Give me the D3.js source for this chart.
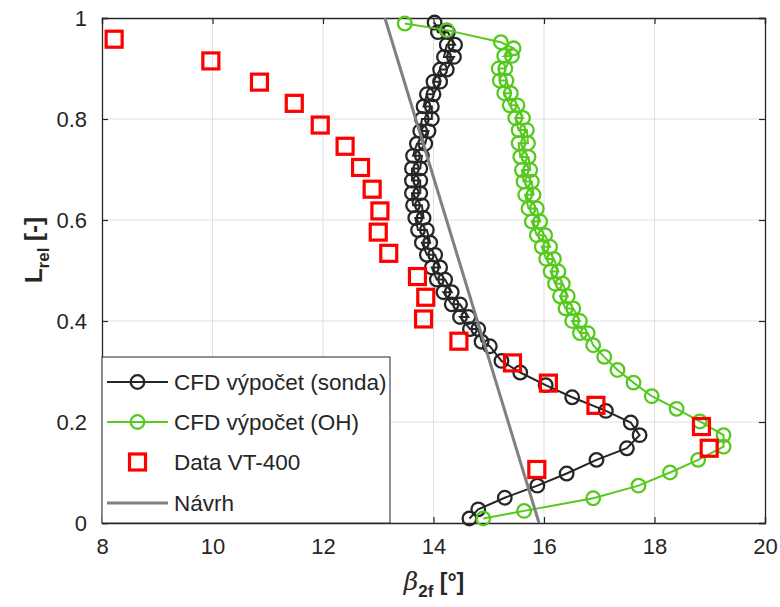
<!DOCTYPE html>
<html>
<head>
<meta charset="utf-8">
<script src="https://cdn.jsdelivr.net/npm/d3@7/dist/d3.min.js"></script>
<style>
  html, body { margin: 0; padding: 0; background: #fff; }
  svg text { font-family: "Liberation Sans", Arial, Helvetica, sans-serif; fill: #262626; }
</style>
</head>
<body>
<svg id="chart" width="780" height="607"></svg>
<script>
// Axis ticks
const xTicks = [8, 10, 12, 14, 16, 18, 20];
const yTicks = [0, 0.2, 0.4, 0.6, 0.8, 1];

// CFD výpočet (sonda): beta_2f [deg] vs L_rel [-]
const sondaBeta = [14.65, 14.81, 15.29, 15.88, 16.41, 16.95, 17.50, 17.73, 17.57, 17.12,
  16.51, 16.03, 15.57, 15.23, 15.02, 14.87,
  14.81, 14.66, 14.48, 14.63, 14.48, 14.33, 14.18, 14.33, 14.21, 14.06,
  13.97, 14.12, 14.03, 13.88, 13.79, 13.94, 13.88, 13.72, 13.67, 13.82,
  13.79, 13.63, 13.61, 13.76, 13.76, 13.61, 13.61, 13.76, 13.79, 13.63,
  13.70, 13.85, 13.91, 13.76, 13.79, 13.97, 13.97, 13.82, 13.88, 14.00,
  14.12, 14.00, 14.12, 14.24, 14.37, 14.19, 14.24, 14.39, 14.26, 14.08, 14.02];
const sondaL = [0.009, 0.027, 0.050, 0.074, 0.098, 0.125, 0.148, 0.174, 0.199, 0.222,
  0.249, 0.273, 0.298, 0.321, 0.350, 0.359,
  0.384, 0.384, 0.408, 0.408, 0.433, 0.433, 0.457, 0.457, 0.482, 0.482,
  0.506, 0.506, 0.531, 0.531, 0.555, 0.555, 0.580, 0.580, 0.604, 0.604,
  0.629, 0.629, 0.653, 0.653, 0.678, 0.678, 0.702, 0.702, 0.727, 0.727,
  0.751, 0.751, 0.776, 0.776, 0.800, 0.800, 0.825, 0.825, 0.849, 0.849,
  0.874, 0.874, 0.898, 0.898, 0.923, 0.923, 0.947, 0.947, 0.972, 0.972, 0.991];

// CFD výpočet (OH)
const ohBeta = [14.90, 15.64, 16.89, 17.71, 18.28, 18.79, 19.25, 19.25, 18.82, 18.40,
  17.95, 17.62, 17.33, 17.09, 16.89,
  16.79, 16.65, 16.51, 16.65, 16.53, 16.39, 16.29, 16.43, 16.34, 16.20,
  16.12, 16.26, 16.18, 16.04, 15.96, 16.11, 16.02, 15.87, 15.78, 15.93,
  15.87, 15.72, 15.66, 15.81, 15.78, 15.63, 15.60, 15.75, 15.72, 15.57,
  15.54, 15.71, 15.69, 15.54, 15.48, 15.62, 15.52, 15.38, 15.28, 15.40,
  15.32, 15.20, 15.18, 15.30, 15.42, 15.28, 15.45, 15.22, 14.24, 13.48];
const ohL = [0.009, 0.024, 0.049, 0.074, 0.100, 0.125, 0.151, 0.174, 0.201, 0.226,
  0.251, 0.278, 0.303, 0.329, 0.352,
  0.376, 0.376, 0.400, 0.400, 0.425, 0.425, 0.449, 0.449, 0.474, 0.474,
  0.498, 0.498, 0.523, 0.523, 0.547, 0.547, 0.570, 0.570, 0.597, 0.597,
  0.623, 0.623, 0.650, 0.650, 0.676, 0.676, 0.699, 0.699, 0.725, 0.725,
  0.752, 0.752, 0.778, 0.778, 0.802, 0.802, 0.827, 0.827, 0.851, 0.851,
  0.876, 0.876, 0.900, 0.900, 0.925, 0.925, 0.940, 0.952, 0.976, 0.989];

// Data VT-400
const vtBeta = [8.22, 9.97, 10.85, 11.48, 11.95, 12.40, 12.68, 12.89, 13.03, 13.00, 13.19,
  13.71, 13.86, 13.82, 14.46, 15.43, 16.08, 16.94, 18.85, 18.99, 15.87];
const vtL = [0.958, 0.915, 0.873, 0.831, 0.788, 0.746, 0.704, 0.661, 0.618, 0.576, 0.534,
  0.488, 0.447, 0.404, 0.360, 0.317, 0.277, 0.233, 0.191, 0.148, 0.106];

// Návrh (design line)
const navrhBeta = [13.12, 15.91];
const navrhL = [1, 0];

const seriesNames = ["CFD výpočet (sonda)", "CFD výpočet (OH)", "Data VT-400", "Návrh"];
const colBlack = "#262626", colGreen = "#55c91e", colRed = "#ff0000", colGrey = "#808080";

const svg = d3.select("#chart");
const x = d3.scaleLinear().domain([8, 20]).range([102, 765]);
const y = d3.scaleLinear().domain([0, 1]).range([523, 18]);

// grid
const grid = svg.append("g");
grid.selectAll("line.gx").data(xTicks.slice(1, -1)).join("line")
  .attr("x1", d => x(d)).attr("x2", d => x(d)).attr("y1", y(0)).attr("y2", y(1))
  .attr("stroke", "#dfdfdf").attr("stroke-width", 1);
grid.selectAll("line.gy").data(yTicks.slice(1, -1)).join("line")
  .attr("y1", d => y(d)).attr("y2", d => y(d)).attr("x1", x(8)).attr("x2", x(20))
  .attr("stroke", "#dfdfdf").attr("stroke-width", 1);

// axes (ticks inside, box on)
const tl = 6;
const axB = svg.append("g").attr("transform", `translate(0,${y(0)})`)
  .call(d3.axisBottom(x).tickValues(xTicks).tickSize(-tl).tickFormat(d3.format("d")).tickPadding(15));
const axT = svg.append("g").attr("transform", `translate(0,${y(1)})`)
  .call(d3.axisTop(x).tickValues(xTicks).tickSize(-tl).tickFormat(""));
const axL = svg.append("g").attr("transform", `translate(${x(8)},0)`)
  .call(d3.axisLeft(y).tickValues(yTicks).tickSize(-tl).tickFormat(d => d === 0 || d === 1 ? d3.format("d")(d) : d3.format(".1f")(d)).tickPadding(15));
const axR = svg.append("g").attr("transform", `translate(${x(20)},0)`)
  .call(d3.axisRight(y).tickValues(yTicks).tickSize(-tl).tickFormat(""));
[axB, axT, axL, axR].forEach(a => {
  a.selectAll("path.domain").attr("stroke", colBlack).attr("stroke-width", 1.3);
  a.selectAll(".tick line").attr("stroke", colBlack).attr("stroke-width", 1.2);
  a.selectAll(".tick text").attr("font-size", 22).attr("fill", colBlack)
    .style("font-family", '"Liberation Sans", Arial, sans-serif');
});

const plot = svg.append("g");
const lineGen = d3.line().x(d => x(d[0])).y(d => y(d[1]));
const rC = 6.8, swC = 2.3;

function series(betas, ls, color) {
  const pts = betas.map((b, i) => [b, ls[i]]);
  plot.append("path").datum(pts).attr("d", lineGen)
    .attr("fill", "none").attr("stroke", color).attr("stroke-width", 2);
  plot.selectAll(null).data(pts).join("circle")
    .attr("cx", d => x(d[0])).attr("cy", d => y(d[1])).attr("r", rC)
    .attr("fill", "none").attr("stroke", color).attr("stroke-width", swC);
}
series(sondaBeta, sondaL, colBlack);
series(ohBeta, ohL, colGreen);

const vtPts = vtBeta.map((b, i) => [b, vtL[i]]);
plot.selectAll(null).data(vtPts).join("rect")
  .attr("x", d => x(d[0]) - 8).attr("y", d => y(d[1]) - 8)
  .attr("width", 16).attr("height", 16)
  .attr("fill", "none").attr("stroke", colRed).attr("stroke-width", 3.2);

plot.append("path").datum(navrhBeta.map((b, i) => [b, navrhL[i]])).attr("d", lineGen)
  .attr("fill", "none").attr("stroke", colGrey).attr("stroke-width", 3);

// legend
const lg = svg.append("g");
lg.append("rect").attr("x", 102).attr("y", 357).attr("width", 288).attr("height", 166)
  .attr("fill", "#fff").attr("stroke", colBlack).attr("stroke-width", 1);
const rowsY = [382, 422, 462, 503];
const sx1 = 107, sx2 = 168, sxm = 137.5;
// sonda
lg.append("line").attr("x1", sx1).attr("x2", sx2).attr("y1", rowsY[0]).attr("y2", rowsY[0]).attr("stroke", colBlack).attr("stroke-width", 2);
lg.append("circle").attr("cx", sxm).attr("cy", rowsY[0]).attr("r", rC).attr("fill", "none").attr("stroke", colBlack).attr("stroke-width", swC);
// OH
lg.append("line").attr("x1", sx1).attr("x2", sx2).attr("y1", rowsY[1]).attr("y2", rowsY[1]).attr("stroke", colGreen).attr("stroke-width", 2);
lg.append("circle").attr("cx", sxm).attr("cy", rowsY[1]).attr("r", rC).attr("fill", "none").attr("stroke", colGreen).attr("stroke-width", swC);
// VT-400
lg.append("rect").attr("x", sxm - 8).attr("y", rowsY[2] - 8).attr("width", 16).attr("height", 16)
  .attr("fill", "none").attr("stroke", colRed).attr("stroke-width", 3.2);
// Návrh
lg.append("line").attr("x1", sx1).attr("x2", sx2).attr("y1", rowsY[3]).attr("y2", rowsY[3]).attr("stroke", colGrey).attr("stroke-width", 3);
lg.selectAll("text.lab").data(seriesNames).join("text")
  .attr("x", 174).attr("y", (d, i) => rowsY[i]).attr("dy", "0.35em")
  .attr("font-size", 22.5).text(d => d);

// axis labels
const yl = svg.append("text").attr("transform", "translate(42,250) rotate(-90)")
  .attr("text-anchor", "middle").attr("font-size", 24).attr("font-weight", "bold");
yl.append("tspan").text("L");
yl.append("tspan").attr("font-size", 17).attr("dy", 7).text("rel");
yl.append("tspan").attr("dy", -7).text(" [-]");

const xl = svg.append("text").attr("x", 434).attr("y", 590)
  .attr("text-anchor", "middle").attr("font-size", 25);
xl.append("tspan").attr("font-style", "italic").style("font-family", '"DejaVu Serif", "Liberation Serif", serif').text("β");
xl.append("tspan").attr("font-size", 17).attr("font-weight", "bold").attr("dy", 7).text("2f");
xl.append("tspan").attr("dy", -7).attr("font-weight", "bold").attr("font-size", 23).text(" [°]");
</script>
</body>
</html>
